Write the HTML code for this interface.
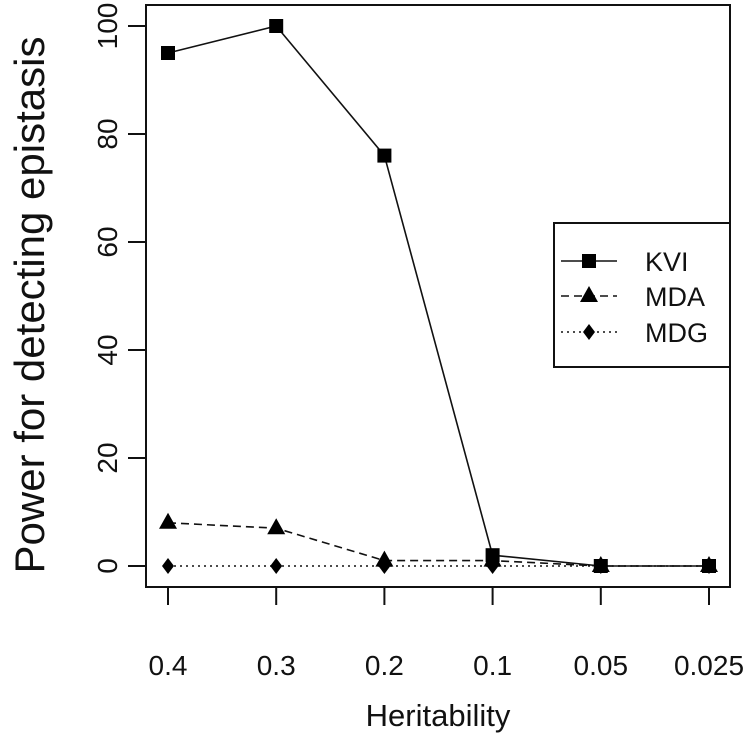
<!DOCTYPE html>
<html><head><meta charset="utf-8"><style>
body{margin:0;background:#fff}
svg text{font-family:"Liberation Sans",Arial,sans-serif;fill:#111}
</style></head><body>
<svg id="chart" width="751" height="736" xmlns="http://www.w3.org/2000/svg">
<g id="plot"></g>
</svg>
<script>
const categories=["0.4","0.3","0.2","0.1","0.05","0.025"];
const kvi=[95,100,76,2,0,0];
const mda=[8,7,1,1,0,0];
const mdg=[0,0,0,0,0,0];
const yTicks=[0,20,40,60,80,100];
const NS="http://www.w3.org/2000/svg";
const svg=document.getElementById('chart');
function xs(i){return 168+i*(709-168)/(categories.length-1);}
function ys(v){return 566-v*5.4;}
function mk(t,a,p){const e=document.createElementNS(NS,t);for(const k in a)e.setAttribute(k,a[k]);(p||svg).appendChild(e);return e;}
let b=mk('rect',{x:146,y:5,width:584,height:582,fill:'none',stroke:'#111','stroke-width':2});


yTicks.forEach(v=>{
 let l=mk('line',{x1:128,x2:146,y1:ys(v),y2:ys(v),stroke:'#111','stroke-width':2});
 
 
 let t=mk('text',{x:0,y:0,'font-size':28,'text-anchor':'middle',transform:`translate(117,${ys(v)}) rotate(-90)`});
 t.textContent=v;
 
 
});
categories.forEach((c,i)=>{
 let l=mk('line',{x1:xs(i),x2:xs(i),y1:587,y2:605,stroke:'#111','stroke-width':2});
 
 
 let t=mk('text',{x:xs(i),y:675,'font-size':28,'text-anchor':'middle'});
 t.textContent=c;
 
 
});
let xt=mk('text',{x:438,y:726,'font-size':31,'text-anchor':'middle'});xt.textContent='Heritability';


let yt=mk('text',{x:0,y:0,'font-size':42,'text-anchor':'middle',transform:'translate(44,305) rotate(-90)'});yt.textContent='Power for detecting epistasis';


function marker(type,x,y,g){
 if(type==='sq')return mk('rect',{x:x-7,y:y-7,width:14,height:14,fill:'#000'},g);
 if(type==='tri')return mk('polygon',{points:`${x},${y-10} ${x-9},${y+6} ${x+9},${y+6}`,fill:'#000'},g);
 return mk('polygon',{points:`${x},${y-8} ${x+6},${y} ${x},${y+8} ${x-6},${y}`,fill:'#000'},g);
}
const series=[[mdg,'dia','2,4','mdg'],[mda,'tri','8,5','mda'],[kvi,'sq','','kvi']];
series.forEach(([d,m,dash,n])=>{
 const g=mk('g',{});
 
 
 const p=mk('polyline',{points:d.map((v,i)=>xs(i)+','+ys(v)).join(' '),fill:'none',stroke:'#111','stroke-width':1.6,'stroke-dasharray':dash},g);
 
 
 d.forEach((v,i)=>{const e=marker(m,xs(i),ys(v),g);
  
  });
});
const lg=mk('g',{});


mk('rect',{x:554,y:223,width:176,height:144,fill:'#fff',stroke:'#111','stroke-width':2},lg);
[['KVI','sq','',261],['MDA','tri','8,5',296],['MDG','dia','2,4',332]].forEach(([n,m,dash,y])=>{
 const g=mk('g',{},lg);
 
 
 mk('line',{x1:561,x2:617,y1:y,y2:y,stroke:'#111','stroke-width':1.6,'stroke-dasharray':dash},g);
 marker(m,589,y,g);
 const t=mk('text',{x:645,y:y+10,'font-size':27},g);t.textContent=n;
});
</script>
</body></html>
